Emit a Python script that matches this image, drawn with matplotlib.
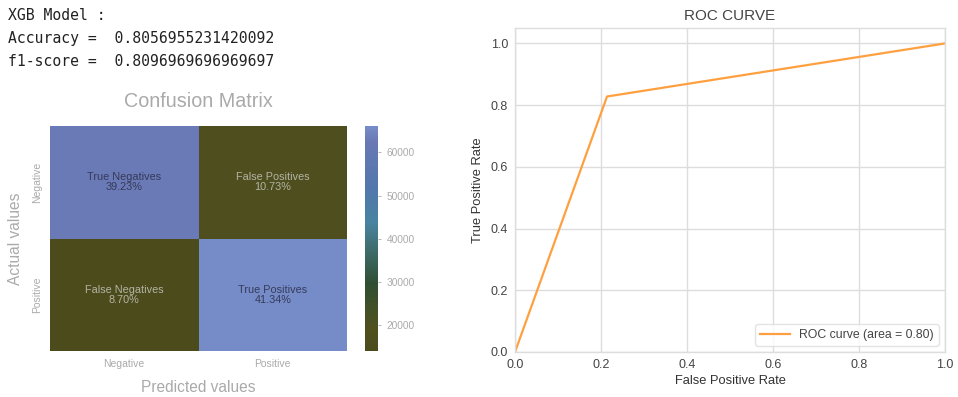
import numpy as np
import matplotlib
matplotlib.use("Agg")
import matplotlib.pyplot as plt
from matplotlib.colors import LinearSegmentedColormap

# ---- data ----
model_name = "XGB Model"
accuracy = 0.8056955231420092
f1 = 0.8096969696969697

class_labels = ["Negative", "Positive"]
cell_names = ["True Negatives", "False Positives", "False Negatives", "True Positives"]
cm_counts = [62770, 17170, 13920, 66140]   # TN, FP, FN, TP
cbar_ticks = [20000, 30000, 40000, 50000, 60000]

roc_fpr = [0.0, 0.214, 1.0]
roc_tpr = [0.0, 0.828, 1.0]
roc_auc = 0.80
roc_ticks = [0.0, 0.2, 0.4, 0.6, 0.8, 1.0]

# ---- styling ----
cm_cmap = LinearSegmentedColormap.from_list(
    "olive_blue",
    [(0.00, "#4b4b1c"), (0.10, "#50501f"), (0.30, "#2f4f32"),
     (0.45, "#3f6c6c"), (0.57, "#4884a0"), (0.72, "#5277ad"),
     (0.93, "#6978b4"), (1.00, "#768cc8")])

sans = ["Liberation Sans", "DejaVu Sans"]
plt.rcParams["font.family"] = sans

fig = plt.figure(figsize=(9.58, 3.97), dpi=100)

# header text printed above the confusion matrix
mono = dict(family="DejaVu Sans Mono", fontsize=10.6, color="#222222")
fig.text(8 / 958, 1 - 15 / 397, f"{model_name} :", va="center", **mono)
fig.text(8 / 958, 1 - 38 / 397, f"Accuracy =  {accuracy}", va="center", **mono)
fig.text(8 / 958, 1 - 61 / 397, f"f1-score =  {f1}", va="center", **mono)

# ---- confusion matrix ----
ax_cm = fig.add_axes([50 / 958, 1 - 351 / 397, 297 / 958, 225 / 397])
ax_cb = fig.add_axes([365 / 958, 1 - 351 / 397, 13 / 958, 225 / 397])

cm = np.array(cm_counts, dtype=float).reshape(2, 2)
total = cm.sum()
vmin, vmax = cm.min(), cm.max()
mesh = ax_cm.pcolormesh(cm, cmap=cm_cmap, vmin=vmin, vmax=vmax)
ax_cm.set_xlim(0, 2)
ax_cm.set_ylim(2, 0)
for s in ax_cm.spines.values():
    s.set_visible(False)

for i in range(2):
    for j in range(2):
        val = cm[i, j]
        name = cell_names[i * 2 + j]
        norm = (val - vmin) / (vmax - vmin)
        col = "#353a5a" if norm > 0.5 else "#b4b4a6"
        ax_cm.text(j + 0.5, i + 0.5, f"{name}\n{val / total:.2%}",
                   ha="center", va="center", fontsize=7.8, color=col,
                   linespacing=0.95)

ax_cm.set_xticks([0.5, 1.5])
ax_cm.set_xticklabels(class_labels, fontsize=7.5, color="#aaaaaa")
ax_cm.set_yticks([0.5, 1.5])
ax_cm.set_yticklabels(class_labels, fontsize=7.5, color="#aaaaaa",
                      rotation=90, va="center")
ax_cm.tick_params(length=0, pad=6)
ax_cm.set_xlabel("Predicted values", fontsize=11.2, color="#aaaaaa", labelpad=8)
ax_cm.set_ylabel("Actual values", fontsize=11.2, color="#aaaaaa", labelpad=6)
ax_cm.set_title("Confusion Matrix", fontsize=14.2, color="#aaaaaa", pad=14)

cb = fig.colorbar(mesh, cax=ax_cb)
cb.set_ticks(cbar_ticks)
cb.outline.set_visible(False)
ax_cb.tick_params(labelsize=7.3, labelcolor="#aaaaaa", color="#aaaaaa",
                  length=2.5, width=0.6)
for lab in ax_cb.get_yticklabels():
    lab.set_family(sans)

# ---- ROC curve ----
ax_roc = fig.add_axes([515 / 958, 1 - 352 / 397, 430 / 958, 324 / 397])
ax_roc.plot(roc_fpr, roc_tpr, color="#ffa040", lw=1.6,
            label=f"ROC curve (area = {roc_auc:0.2f})")
ax_roc.set_xlim(0.0, 1.0)
ax_roc.set_ylim(0.0, 1.05)
ax_roc.set_xticks(roc_ticks)
ax_roc.set_yticks(roc_ticks)
ax_roc.grid(True, color="#dddddd", lw=1.0)
ax_roc.set_axisbelow(True)
for s in ax_roc.spines.values():
    s.set_color("#dddddd")
    s.set_linewidth(1.0)
ax_roc.tick_params(length=0, labelsize=9, labelcolor="#444444", pad=5)
ax_roc.set_xlabel("False Positive Rate", fontsize=9.3, color="#333333", labelpad=3)
ax_roc.set_ylabel("True Positive Rate", fontsize=9.3, color="#333333", labelpad=5)
ax_roc.set_title("ROC CURVE", fontsize=11, color="#444444", pad=6)
leg = ax_roc.legend(loc="lower right", fontsize=8.8, frameon=True,
                    fancybox=True, handlelength=2.4)
leg.get_frame().set_edgecolor("#dddddd")
for t in leg.get_texts():
    t.set_color("#444444")

fig.savefig("out.png", dpi=100)
